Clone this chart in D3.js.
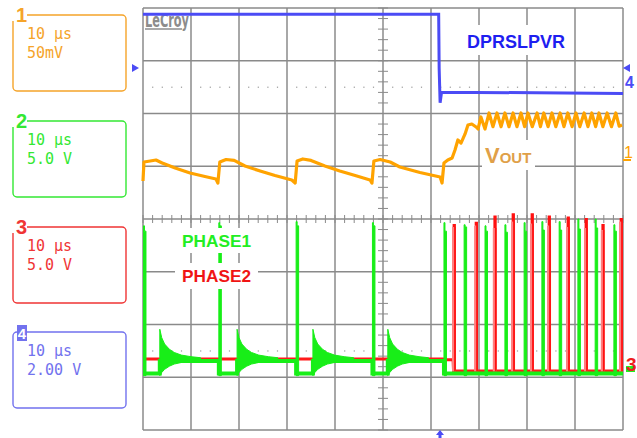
<!DOCTYPE html>
<html>
<head>
<meta charset="utf-8">
<script src="https://cdn.jsdelivr.net/npm/d3@7"></script>
<style>
body { margin: 0; background: #fff; }
svg { display: block; font-family: "Liberation Sans", Arial, sans-serif; }
.mono { font-family: "DejaVu Sans Mono", monospace; font-size: 15px; }
</style>
</head>
<body>
<svg width="637" height="438"></svg>
<script>
// ---- scope settings (left side panels) ----
var chNames = ["1", "2", "3", "4"];
var chTimeDiv = ["10 \u00b5s", "10 \u00b5s", "10 \u00b5s", "10 \u00b5s"];
var chVoltDiv = ["50mV", "5.0 V", "5.0 V", "2.00 V"];
var chColors = ["#f5a42a", "#33e833", "#f03535", "#7272ee"];

// ---- traces: [time us, value] ----
// ch4 DPRSLPVR, volts
var dprslpvr = [[0, 3.0], [61.6, 3.0], [61.7, 0.95], [61.9, -0.35], [62.2, 0.05], [100, 0.0]];

// ch1 VOUT, mV
var vout = [
  [0.0, -14.0], [0.2, 4.0], [1.5, 5.0], [2.7, 5.9], [4.0, 3.1], [6.7, -1.7], [9.8, -6.4], [12.9, -9.7], [15.2, -12.1], [15.6, -15.9],
  [16.0, 4.0], [17.3, 6.4], [19.0, 5.5], [21.25, 0.2], [24.4, -4.5], [27.5, -8.8], [31.0, -13.0], [31.7, -15.9],
  [32.1, 5.0], [33.3, 6.9], [35.0, 5.5], [37.9, 0.2], [41.0, -4.5], [44.2, -8.8], [47.3, -13.0], [47.7, -15.9],
  [48.1, 5.0], [49.4, 6.4], [51.5, 4.0], [53.5, -0.7], [57.7, -5.9], [61.9, -10.2], [62.3, -15.9],
  [62.7, 3.1], [63.5, 5.9], [64.4, 7.8], [65.0, 15.4], [65.6, 24.9], [66.25, 22.0], [67.1, 30.6], [67.7, 39.1],
  [68.5, 40.0], [69.4, 37.2], [69.8, 35.3], [70.4, 46.7], [71.25, 35.3],
  [72.1, 50.5], [72.9, 37.5], [73.75, 50.5], [74.6, 37.5], [75.4, 50.5], [76.25, 37.5], [77.1, 50.5], [77.9, 37.5],
  [78.75, 50.5], [79.5, 37.5], [80.2, 50.5], [81.1, 37.5], [82.1, 50.5], [82.8, 37.5], [83.5, 50.5], [84.4, 37.5],
  [85.2, 50.5], [86.0, 37.5], [86.9, 50.5], [87.7, 37.5], [88.5, 50.5], [89.4, 37.5], [90.2, 50.5], [91.0, 37.5],
  [91.9, 50.5], [92.7, 37.5], [93.5, 50.5], [94.3, 37.5], [95.0, 50.5], [95.8, 37.5], [96.7, 50.5], [97.6, 37.5],
  [98.5, 50.5], [99.2, 38.0], [99.8, 39.1]
];

// ch3 PHASE2 base line, volts
var phase2Base = [[0, 1.28], [63.0, 1.28], [63.1, 1.2], [64.6, 1.2], [64.7, 0.15], [100, 0.15]];
// ch2 PHASE1 base line, volts
var phase1Base = [[0, -0.1], [3.5, -0.1], [3.5, 1.1], [15.8, 1.1], [15.8, -0.1], [19.6, -0.1], [19.6, 1.1],
  [31.9, 1.1], [31.9, -0.1], [35.4, -0.1], [35.4, 1.1], [47.8, 1.1], [47.8, -0.1], [51.0, -0.1], [51.0, 1.1],
  [62.7, 1.1], [62.7, -0.1], [100, -0.1]];
// ringing after each PHASE1 low interval
var ringStarts = [3.5, 19.6, 35.4, 51.0];
var ringEnvelope = [[0, 4.1, -0.3], [0.4, 3.3, 0.0], [1.0, 2.7, 0.3], [2.0, 2.2, 0.6], [3.0, 1.9, 0.8],
  [4.5, 1.65, 0.95], [6.5, 1.5, 1.0], [8.5, 1.4, 1.0]];

// switching pulses: [time us, peak V, shoulder V]
var phase1Pulses = [[0.1, 13.9, 13.4], [15.8, 14.2, 13.9], [31.9, 14.3, 13.9], [47.8, 14.2, 13.9],
  [62.7, 14.2, 13.4], [66.9, 14.0, 13.8], [71.25, 13.9, 13.4], [75.4, 14.0, 13.3], [79.4, 14.2, 13.4],
  [83.1, 14.3, 13.5], [86.7, 14.3, 13.5], [90.6, 14.55, 13.6], [94.2, 14.55, 13.7], [98.1, 14.0, 13.4]];
var phase2Pulses = [[65.0, 14.0, 13.8], [69.6, 14.2, 13.9], [73.5, 14.8, 13.7], [77.3, 15.0, 14.3],
  [81.25, 15.0, 14.1], [84.8, 14.8, 13.9], [88.75, 14.7, 13.8], [92.5, 14.55, 13.7], [96.0, 14.0, 13.5],
  [99.8, 14.55, 14.3]];

var svg = d3.select("svg");
svg.append("rect").attr("width", 637).attr("height", 438).attr("fill", "#fff");

// grid: 10 x 8 divisions
var x = d3.scaleLinear().domain([0, 100]).range([143, 623]);
var yDiv = d3.scaleLinear().domain([4, -4]).range([8, 430]);

function chScale(perDiv, zeroDiv) {
  return d3.scaleLinear().domain([0, perDiv]).range([yDiv(zeroDiv), yDiv(zeroDiv + 1)]);
}
var y1 = chScale(50, 1);      // mV
var y4 = chScale(2, 2.38);    // V
var y23 = chScale(5, -2.91);  // V

var grid = svg.append("g");
grid.selectAll("line.v").data(d3.range(0, 101, 10)).enter().append("line")
  .attr("x1", d => x(d)).attr("x2", d => x(d)).attr("y1", yDiv(4)).attr("y2", yDiv(-4))
  .attr("stroke", "#a8a8a8").attr("stroke-width", 2);
grid.selectAll("line.h").data(d3.range(-4, 5)).enter().append("line")
  .attr("x1", x(0)).attr("x2", x(100)).attr("y1", d => yDiv(d)).attr("y2", d => yDiv(d))
  .attr("stroke", "#8a8a8a").attr("stroke-width", 1.5);
// minor ticks on centre lines
grid.selectAll("line.tx").data(d3.range(0, 100.1, 2)).enter().append("line")
  .attr("x1", d => x(d)).attr("x2", d => x(d)).attr("y1", yDiv(0) - 4).attr("y2", yDiv(0) + 4)
  .attr("stroke", "#8a8a8a").attr("stroke-width", 1);
grid.selectAll("line.ty").data(d3.range(-4, 4.01, 0.2)).enter().append("line")
  .attr("x1", x(50) - 5).attr("x2", x(50) + 5).attr("y1", d => yDiv(d)).attr("y2", d => yDiv(d))
  .attr("stroke", "#8a8a8a").attr("stroke-width", 1);
// dotted rows
[2.5, -2.5].forEach(function(r) {
  grid.selectAll(null).data(d3.range(2, 100, 2).filter(d => d % 10 !== 0)).enter().append("rect")
    .attr("x", d => x(d) - 0.5).attr("y", yDiv(r) - 0.5).attr("width", 1.2).attr("height", 1.2)
    .attr("fill", "#999");
});

// LeCroy logo
svg.append("text").attr("x", 145).attr("y", 27).attr("font-size", 19).attr("font-weight", "bold")
  .attr("font-family", "'DejaVu Sans Condensed', 'Liberation Sans Narrow', sans-serif")
  .attr("fill", "#8c8c8c").attr("textLength", 44).attr("lengthAdjust", "spacingAndGlyphs")
  .text("LeCroy");
svg.append("line").attr("x1", 145).attr("x2", 182).attr("y1", 29).attr("y2", 29)
  .attr("stroke", "#8c8c8c").attr("stroke-width", 1.6);

var line = d3.line();

// ch4 trace
svg.append("path").datum(dprslpvr)
  .attr("d", line.x(d => x(d[0])).y(d => y4(d[1])))
  .attr("fill", "none").attr("stroke", "#4b4bf5").attr("stroke-width", 3);

// ch1 trace
svg.append("path").datum(vout)
  .attr("d", d3.line().x(d => x(d[0])).y(d => y1(d[1])))
  .attr("fill", "none").attr("stroke", "#ffa300").attr("stroke-width", 3.2).attr("stroke-linejoin", "round");

var lineV = d3.line().x(d => x(d[0])).y(d => y23(d[1]));

// ch3 PHASE2
svg.append("path").datum(phase2Base).attr("d", lineV)
  .attr("fill", "none").attr("stroke", "#ff1a1a").attr("stroke-width", 3);
var p2 = svg.append("g").selectAll("g").data(phase2Pulses).enter().append("g");
p2.append("rect")
  .attr("x", d => x(d[0]) - 3).attr("width", 4)
  .attr("y", d => y23(d[2])).attr("height", d => y23(0.1) - y23(d[2]))
  .attr("fill", "#ff8080");
p2.append("path")
  .attr("d", d => "M" + x(d[0]) + "," + y23(0.1) + "V" + y23(d[1]) + "h-1.5V" + y23(d[2]))
  .attr("fill", "none").attr("stroke", "#ff1010").attr("stroke-width", 1.8);

// ch2 PHASE1
svg.append("path").datum(phase1Base).attr("d", lineV)
  .attr("fill", "none").attr("stroke", "#18ee18").attr("stroke-width", 4);
var area = d3.area().x(d => d[0]).y0(d => d[1]).y1(d => d[2]);
svg.append("g").selectAll("path").data(ringStarts).enter().append("path")
  .attr("d", s => area(ringEnvelope.map(e => [x(s + e[0]), y23(e[1]), y23(e[2])])))
  .attr("fill", "#18ee18").attr("stroke", "#18ee18").attr("stroke-width", 1);
svg.append("g").selectAll("path").data(phase1Pulses).enter().append("path")
  .attr("d", d => "M" + x(d[0]) + "," + y23(-0.3) + "V" + y23(d[1]) + "h1V" + y23(d[2]) + "h1.5V" + y23(-0.3) + "Z")
  .attr("fill", "#18ee18").attr("stroke", "#18ee18").attr("stroke-width", 1);

// labels with white backing
function label(bx, by, bw, bh) {
  svg.append("rect").attr("x", bx).attr("y", by).attr("width", bw).attr("height", bh).attr("fill", "#fff");
}
label(460, 25, 112, 30);
svg.append("text").attr("x", 467).attr("y", 48).attr("font-size", 19).attr("font-weight", "bold")
  .attr("fill", "#1e1ef0").attr("textLength", 98).attr("lengthAdjust", "spacingAndGlyphs").text("DPRSLPVR");
label(482, 140, 53, 30);
var vt = svg.append("text").attr("x", 485).attr("y", 163).attr("font-weight", "bold").attr("fill", "#e0a048");
vt.append("tspan").attr("font-size", 22).text("V");
vt.append("tspan").attr("font-size", 15).text("OUT");
label(175, 228, 83, 25);
svg.append("text").attr("x", 182).attr("y", 247).attr("font-size", 17).attr("font-weight", "bold")
  .attr("fill", "#22ee22").attr("textLength", 69).attr("lengthAdjust", "spacingAndGlyphs").text("PHASE1");
label(175, 263, 83, 26);
svg.append("text").attr("x", 182).attr("y", 282).attr("font-size", 17).attr("font-weight", "bold")
  .attr("fill", "#f01414").attr("textLength", 69).attr("lengthAdjust", "spacingAndGlyphs").text("PHASE2");

// channel markers
svg.append("path").attr("d", "M132,64 L139,68 L132,72 Z").attr("fill", "#4b4bf5");
svg.append("path").attr("d", "M630,64 L623,68 L630,72 Z").attr("fill", "#4b4bf5");
svg.append("text").attr("x", 625).attr("y", 88).attr("font-size", 16).attr("font-weight", "bold")
  .attr("fill", "#4b4bf5").text("4");
svg.append("text").attr("x", 624).attr("y", 158).attr("font-size", 16).attr("fill", "#ffa300").text("1");
svg.append("line").attr("x1", 623).attr("x2", 631).attr("y1", 160).attr("y2", 160)
  .attr("stroke", "#ffa300").attr("stroke-width", 2);
// ch2 marker hidden behind the ch3 one
svg.append("path").attr("d", "M626,366 h9 v6 h-9 Z").attr("fill", "#22ee22");
svg.append("text").attr("x", 626).attr("y", 371).attr("font-size", 19).attr("font-weight", "bold")
  .attr("fill", "#ee2020").text("3");
// trigger position
svg.append("path").attr("d", "M440,430 L444,435 L441.5,435 L441.5,438 L438.5,438 L438.5,435 L436,435 Z")
  .attr("fill", "#4b4bf5");

// left channel panels
var panelTop = [15, 121, 227, 332];
var panels = svg.append("g").selectAll("g").data(chNames).enter().append("g")
  .attr("transform", (d, i) => "translate(13," + panelTop[i] + ")");
panels.append("rect").attr("width", 113).attr("height", 76).attr("rx", 4)
  .attr("fill", "none").attr("stroke", (d, i) => chColors[i]).attr("stroke-width", 1.4);
panels.append("rect")
  .attr("x", (d, i) => i === 3 ? 4 : -2).attr("y", (d, i) => i === 3 ? -7 : -8)
  .attr("width", (d, i) => i === 3 ? 10 : 16).attr("height", (d, i) => i === 3 ? 16 : 14)
  .attr("fill", (d, i) => i === 3 ? chColors[i] : "#fff");
panels.append("text").attr("x", (d, i) => i === 3 ? 9 : 8.5).attr("y", (d, i) => i === 3 ? 7 : 7)
  .attr("font-size", (d, i) => i === 3 ? 15 : 20).attr("font-weight", "bold")
  .attr("text-anchor", "middle")
  .attr("fill", (d, i) => i === 3 ? "#fff" : chColors[i]).text(d => d);
panels.append("text").attr("class", "mono").attr("x", 14).attr("y", 24)
  .attr("fill", (d, i) => chColors[i]).text((d, i) => chTimeDiv[i]);
panels.append("text").attr("class", "mono").attr("x", 14).attr("y", 43)
  .attr("fill", (d, i) => chColors[i]).text((d, i) => chVoltDiv[i]);
</script>
</body>
</html>
